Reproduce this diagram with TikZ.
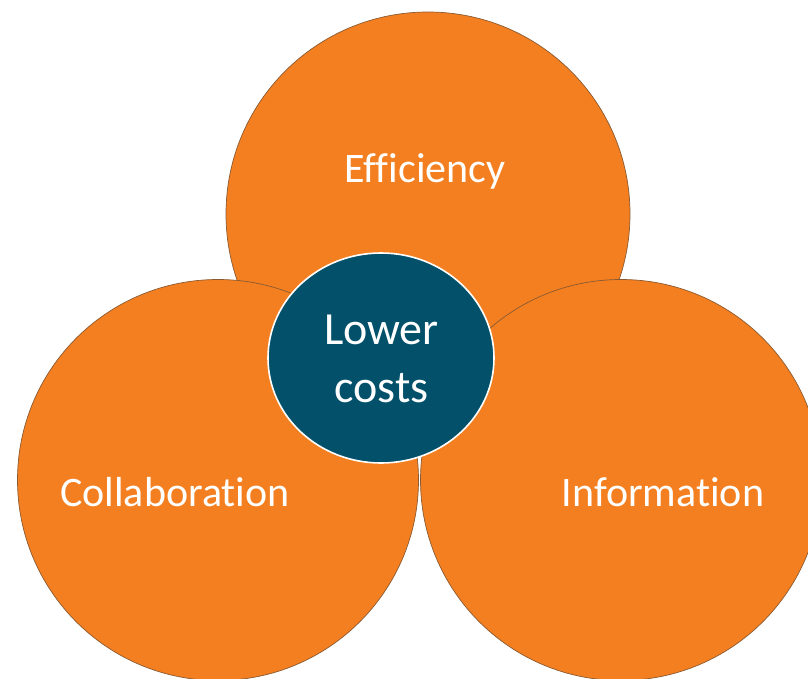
\documentclass[tikz,border=0pt]{standalone}
\usepackage{fontspec}
\setmainfont[Ligatures={NoCommon}]{Carlito}
\usetikzlibrary{shapes.geometric}
\definecolor{orangefill}{HTML}{F47F21}
\definecolor{orangeline}{HTML}{8A5A30}
\definecolor{tealfill}{HTML}{02506A}
\begin{document}
\begin{tikzpicture}[x=1pt,y=-1pt,
  petal/.style={circle, fill=orangefill, draw=orangeline, line width=0.7pt, minimum size=#1, inner sep=0pt},
  hub/.style={ellipse, fill=tealfill, draw=white, line width=1.6pt, minimum width=226pt, minimum height=210pt, inner sep=0pt},
  lbl/.style={anchor=base, text=white, font=\fontsize{42}{50}\selectfont, inner sep=0pt},
  hublbl/.style={anchor=base, text=white, font=\fontsize{46}{55}\selectfont, inner sep=0pt}]
\useasboundingbox (0,0) rectangle (808,679);
\node[petal=404pt] (eff) at (428,214) {};
\node[petal=401pt] (col) at (218,480) {};
\node[petal=401pt] (inf) at (621,480) {};
\node[hub] (low) at (381,358) {};
\node[lbl] (efft) at (425,182.5) {Efficiency};
\node[lbl] (colt) at (175,506.5) {Collaboration};
\node[lbl] (inft) at (663,506) {Information};
\node[hublbl] (lowt1) at (381.5,344) {Lower};
\node[hublbl] (lowt2) at (381.5,402) {costs};
\end{tikzpicture}
\end{document}
